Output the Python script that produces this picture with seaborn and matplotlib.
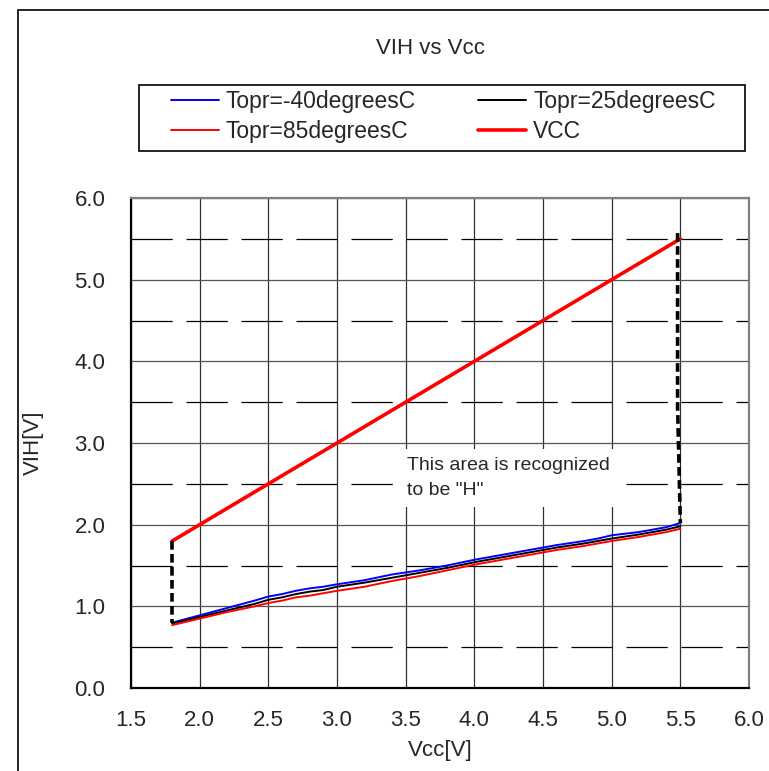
import matplotlib

matplotlib.use("Agg")
import matplotlib.pyplot as plt
import numpy as np
import pandas as pd
import seaborn as sns
from matplotlib.lines import Line2D
from matplotlib.patches import Rectangle
from matplotlib.ticker import FormatStrFormatter, MultipleLocator

vcc = [1.8, 2.0, 2.2, 2.4, 2.5, 2.6, 2.7, 2.8, 2.9, 3.0, 3.2, 3.4,
       3.6, 3.8, 4.0, 4.2, 4.4, 4.6, 4.8, 4.9, 5.0, 5.2, 5.4, 5.5]
vih_m40 = [0.80, 0.89, 0.98, 1.07, 1.12, 1.15, 1.19, 1.22, 1.24, 1.27, 1.32, 1.39,
           1.44, 1.50, 1.57, 1.63, 1.69, 1.75, 1.80, 1.83, 1.87, 1.91, 1.97, 2.02]
vih_25 = [0.79, 0.87, 0.95, 1.03, 1.08, 1.11, 1.15, 1.18, 1.20, 1.24, 1.29, 1.35,
          1.41, 1.47, 1.54, 1.60, 1.66, 1.72, 1.77, 1.80, 1.83, 1.88, 1.94, 1.98]
vih_85 = [0.77, 0.85, 0.93, 1.00, 1.04, 1.07, 1.11, 1.13, 1.16, 1.19, 1.24, 1.31,
          1.37, 1.44, 1.51, 1.57, 1.63, 1.69, 1.74, 1.77, 1.80, 1.85, 1.91, 1.95]
vcc_line = [1.8, 2.0, 2.2, 2.4, 2.5, 2.6, 2.7, 2.8, 2.9, 3.0, 3.2, 3.4,
            3.6, 3.8, 4.0, 4.2, 4.4, 4.6, 4.8, 4.9, 5.0, 5.2, 5.4, 5.5]

# boundaries of the "H" region
low_edge_x = [1.8, 1.8]
low_edge_y = [1.8, 0.79]
high_edge_x = [5.48, 5.48, 5.5]
high_edge_y = [5.57, 3.45, 2.02]

series_labels = ["Topr=-40degreesC", "Topr=25degreesC", "Topr=85degreesC", "VCC"]
series_colors = ["#0000ff", "#000000", "#ff0000", "#ff0000"]
series_widths = [1.4, 1.4, 1.4, 2.6]

sns.set_style("white")
plt.rcParams["font.family"] = ["Liberation Sans", "DejaVu Sans"]

df = pd.DataFrame({
    "Vcc": vcc * 4,
    "VIH": vih_m40 + vih_25 + vih_85 + vcc_line,
    "series": sum([[s] * len(vcc) for s in series_labels], []),
})

W, H = 769, 771
fig = plt.figure(figsize=(W / 100, H / 100), dpi=100)
ax = fig.add_axes([131 / W, 1 - 688 / H, (749 - 131) / W, (688 - 198) / H])

# frame around the chart area
fig.add_artist(Line2D([18 / W, 18 / W], [0, 1 - 9.5 / H], color="black", lw=1.2))
fig.add_artist(Line2D([18 / W, 1], [1 - 9.5 / H, 1 - 9.5 / H], color="black", lw=1.2))

ax.set_xlim(1.5, 6.0)
ax.set_ylim(0.0, 6.0)
ax.xaxis.set_major_locator(MultipleLocator(0.5))
ax.yaxis.set_major_locator(MultipleLocator(1.0))
ax.yaxis.set_minor_locator(MultipleLocator(0.5))
ax.xaxis.set_major_formatter(FormatStrFormatter("%.1f"))
ax.yaxis.set_major_formatter(FormatStrFormatter("%.1f"))

ax.grid(True, which="major", axis="x", color="#303030", lw=0.9)
ax.grid(True, which="major", axis="y", color="#555555", lw=0.9)
ax.grid(True, which="minor", axis="y", color="#000000", lw=0.9,
        linestyle=(0, (33, 11)))
ax.set_axisbelow(True)

for spine in ["left", "bottom"]:
    ax.spines[spine].set_color("black")
    ax.spines[spine].set_linewidth(1.6)
for spine in ["top", "right"]:
    ax.spines[spine].set_color("#808080")
    ax.spines[spine].set_linewidth(1.6)

sns.lineplot(data=df, x="Vcc", y="VIH", hue="series", size="series",
             palette=dict(zip(series_labels, series_colors)),
             sizes=dict(zip(series_labels, series_widths)),
             hue_order=series_labels, ax=ax, legend=False, zorder=3)

ax.plot(low_edge_x, low_edge_y, color="black", lw=2.6,
        linestyle=(0, (2.4, 1.2)), zorder=4)
ax.plot(high_edge_x, high_edge_y, color="black", lw=2.6,
        linestyle=(0, (2.4, 1.2)), zorder=4)

ax.text(3.51, 2.57, 'This area is recognized\nto be "H"', fontsize=14,
        va="center", ha="left", linespacing=1.6,
        bbox=dict(facecolor="white", edgecolor="none", pad=6), zorder=2.5)

ax.tick_params(axis="both", which="both", length=0, labelsize=16)
ax.tick_params(axis="x", pad=16)
ax.tick_params(axis="y", pad=18.5)
ax.set_xlabel("Vcc[V]", fontsize=16, labelpad=6)
ax.set_ylabel("VIH[V]", fontsize=16, labelpad=22)

fig.text(430 / W, 1 - 48 / H, "VIH vs Vcc", ha="center", va="center", fontsize=16)

# legend box
fig.add_artist(Rectangle((139 / W, 1 - 151 / H), 606 / W, 66 / H,
                         transform=fig.transFigure, facecolor="white",
                         edgecolor="black", lw=1.2))
handles = [Line2D([], [], color=c, lw=w) for c, w in zip(series_colors, series_widths)]
handles = [handles[0], handles[2], handles[1], handles[3]]
labels = [series_labels[0], series_labels[2], series_labels[1], series_labels[3]]
leg = fig.legend(handles, labels, loc="upper left", ncol=2,
                 bbox_to_anchor=(171 / W, 1 - 90 / H),
                 bbox_transform=fig.transFigure, fontsize=16.5, frameon=False,
                 borderaxespad=0, borderpad=0, handlelength=2.1,
                 handletextpad=0.3, labelspacing=0.3, columnspacing=2.7)

fig.savefig("out.png", dpi=100)
